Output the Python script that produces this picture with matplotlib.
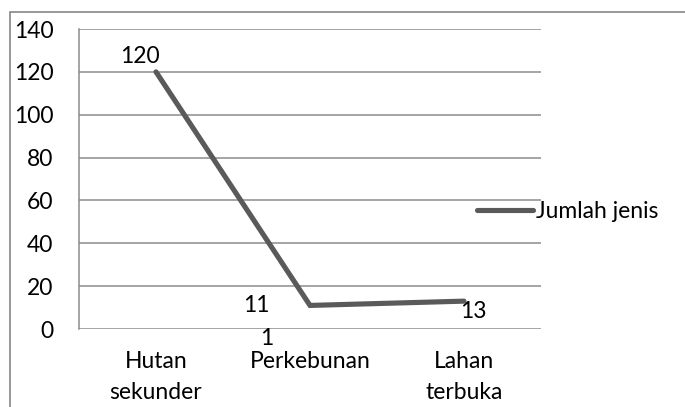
import matplotlib
matplotlib.use("Agg")
import matplotlib.pyplot as plt
from matplotlib.patches import Rectangle

plt.rcParams['font.family'] = ['Lato', 'DejaVu Sans']

categories = ["Hutan\nsekunder", "Perkebunan", "Lahan\nterbuka"]
jumlah_jenis = [120, 11, 13]
series_name = "Jumlah jenis"
y_ticks = [0, 20, 40, 60, 80, 100, 120, 140]

W, H = 685, 407
FS = 16.5
fig = plt.figure(figsize=(W / 100, H / 100), dpi=100)
fig.patch.set_facecolor("white")

# outer chart frame (runs off the right and bottom edges)
fig.add_artist(Rectangle((10 / W, -0.05), 1.2, 1.05 - 12 / H,
                         transform=fig.transFigure, fill=False,
                         edgecolor="#868686", linewidth=1.2))

ax = fig.add_axes([79 / W, (H - 329) / H, (541 - 79) / W, (329 - 29) / H])
ax.set_xlim(-0.5, len(categories) - 0.5)
ax.set_ylim(0, 140)

grid_c = "#8c8c8c"
for v in y_ticks:
    ax.axhline(v, color=grid_c, linewidth=1.1, zorder=1)
for s in ["top", "right", "bottom"]:
    ax.spines[s].set_visible(False)
ax.spines["left"].set_color(grid_c)
ax.spines["left"].set_linewidth(1.1)

xs = list(range(len(categories)))
ax.plot(xs, jumlah_jenis, color="#5a5a5a", linewidth=3.7,
        solid_capstyle="round", solid_joinstyle="miter",
        label=series_name, zorder=3)

ax.set_yticks(y_ticks)
ax.set_yticklabels([str(v) for v in y_ticks], fontsize=FS)
ax.set_xticks(xs)
ax.set_xticklabels(categories, fontsize=FS, linespacing=1.6)
ax.tick_params(axis="y", length=0, pad=18.5)
ax.tick_params(axis="x", length=0, pad=16)

# data labels
label_offsets = [(-16, 15), (-54, 0), (9, -10)]
for x, v, (dx, dy) in zip(xs, jumlah_jenis, label_offsets):
    ax.annotate(str(v), (x, v), xytext=(dx, dy), textcoords="offset pixels",
                ha="center", va="center", fontsize=FS, color="black",
                zorder=4)
# wrapped remainder of the middle label
ax.annotate("1", (1, jumlah_jenis[1]), xytext=(-43, -33),
            textcoords="offset pixels", ha="center", va="center",
            fontsize=FS, color="black", zorder=4)

leg = ax.legend(loc="center left", bbox_to_anchor=(477 / W, (H - 212) / H),
                bbox_transform=fig.transFigure, frameon=False, fontsize=FS,
                handlelength=2.45, handletextpad=0.12, borderpad=0,
                borderaxespad=0)

fig.savefig("out.png", dpi=100, facecolor="white")
